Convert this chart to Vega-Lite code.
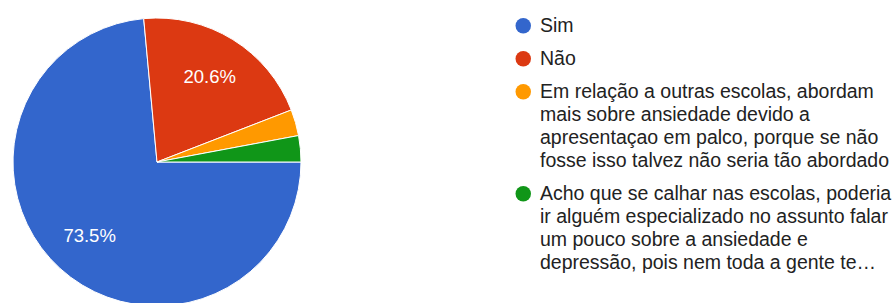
{
  "$schema": "https://vega.github.io/schema/vega-lite/v6.json",
  "width": 288,
  "height": 288,
  "padding": {"left": 11, "top": 16, "right": 0, "bottom": 0},
  "background": "white",
  "data": {
    "values": [
      {"idx": 1, "category": "Sim", "value": 25, "pct": "73.5%"},
      {"idx": 2, "category": "Não", "value": 7, "pct": "20.6%"},
      {"idx": 3, "category": "Em relação a outras escolas, abordam|mais sobre ansiedade devido a|apresentaçao em palco, porque se não|fosse isso talvez não seria tão abordado", "value": 1, "pct": "2.9%"},
      {"idx": 4, "category": "Acho que se calhar nas escolas, poderia|ir alguém especializado no assunto falar|um pouco sobre a ansiedade e|depressão, pois nem toda a gente te…", "value": 1, "pct": "2.9%"}
    ]
  },
  "encoding": {
    "theta": {"field": "value", "type": "quantitative", "stack": true, "scale": {"range": [1.5707963, 7.8539816]}},
    "order": {"field": "idx", "type": "quantitative"}
  },
  "layer": [
    {
      "mark": {"type": "arc", "stroke": "white", "strokeWidth": 1},
      "encoding": {
        "color": {
          "field": "category",
          "type": "nominal",
          "sort": null,
          "scale": {
            "domain": [
              "Sim",
              "Não",
              "Em relação a outras escolas, abordam|mais sobre ansiedade devido a|apresentaçao em palco, porque se não|fosse isso talvez não seria tão abordado",
              "Acho que se calhar nas escolas, poderia|ir alguém especializado no assunto falar|um pouco sobre a ansiedade e|depressão, pois nem toda a gente te…"
            ],
            "range": ["#3366cc", "#dc3912", "#ff9900", "#109618"]
          },
          "legend": {
            "title": null,
            "orient": "none",
            "legendX": 500.5,
            "legendY": -2,
            "padding": 0,
            "symbolType": "circle",
            "symbolSize": 240,
            "symbolStrokeWidth": 0,
            "symbolOpacity": 1,
            "labelExpr": "split(datum.label, '|')",
            "labelFont": "Liberation Sans",
            "labelFontSize": 19.5,
            "labelColor": "#222222",
            "labelLimit": 0,
            "labelOffset": 7,
            "rowPadding": 12
          }
        }
      }
    },
    {
      "mark": {"type": "text", "radius": 100, "font": "Liberation Sans", "fontSize": 18.5, "color": "white"},
      "encoding": {
        "text": {"condition": {"test": "datum.value < 3", "value": ""}, "field": "pct", "type": "nominal"}
      }
    }
  ],
  "config": {
    "view": {"stroke": null},
    "style": {"guide-label": {"lineHeight": 23}}
  }
}
